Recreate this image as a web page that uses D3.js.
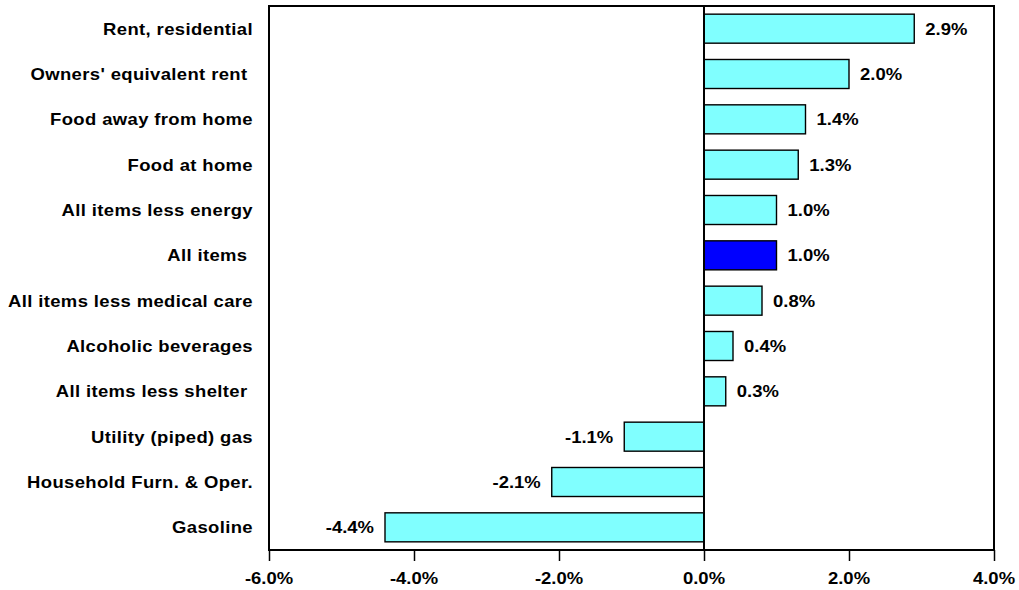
<!DOCTYPE html>
<html>
<head>
<meta charset="utf-8">
<script src="https://cdn.jsdelivr.net/npm/d3@7"></script>
<style>
  body { margin: 0; background: #fff; }
  text { font-family: "Liberation Sans", Arial, sans-serif; font-weight: bold; fill: #000; white-space: pre; }
</style>
</head>
<body>
<div id="chartArea"></div>
<script>
// data, top to bottom
let categories = [
   "Rent, residential",
   "Owners' equivalent rent ",
   "Food away from home",
   "Food at home",
   "All items less energy",
   "All items ",
   "All items less medical care",
   "Alcoholic beverages",
   "All items less shelter ",
   "Utility (piped) gas",
   "Household Furn. & Oper.",
   "Gasoline"
];
let values = [2.9, 2.0, 1.4, 1.3, 1.0, 1.0, 0.8, 0.4, 0.3, -1.1, -2.1, -4.4];
let highlighted = ["All items "];
let tick_values = [-6, -4, -2, 0, 2, 4];

let width = 1019, height = 590;
let plot_left = 269, plot_right = 994, plot_top = 6, plot_bottom = 550;
let fontSize = 16.5, stretch = 1.12;

let svg = d3.select('#chartArea').append('svg')
   .attr('width', width)
   .attr('height', height);

let x = d3.scaleLinear().domain([-6, 4]).range([plot_left, plot_right]);
let y = d3.scaleBand().domain(categories).range([plot_top, plot_bottom])
   .paddingInner(0.36).paddingOuter(0.18);

let fmt = function(v) { return v.toFixed(1) + '%'; };

// horizontally stretched text, like the original
let addText = function(g, tx, ty, str, anchor, spacing) {
   g.append('text')
      .attr('transform', `translate(${tx},${ty}) scale(${stretch},1)`)
      .attr('text-anchor', anchor)
      .attr('font-size', fontSize)
      .attr('letter-spacing', spacing || 0)
      .text(str);
};

// bars
svg.selectAll('rect.bar').data(categories)
   .enter().append('rect')
   .attr('class', 'bar')
   .attr('x', function(d, i) { return x(Math.min(0, values[i])); })
   .attr('y', function(d) { return y(d); })
   .attr('width', function(d, i) { return Math.abs(x(values[i]) - x(0)); })
   .attr('height', y.bandwidth())
   .attr('fill', function(d) { return highlighted.includes(d) ? '#0000ff' : '#80ffff'; })
   .attr('stroke', '#000')
   .attr('stroke-width', 1.4);

// frame
svg.append('rect')
   .attr('x', plot_left).attr('y', plot_top)
   .attr('width', plot_right - plot_left).attr('height', plot_bottom - plot_top)
   .attr('fill', 'none')
   .attr('stroke', '#000')
   .attr('stroke-width', 2);

// zero line
svg.append('line')
   .attr('x1', x(0)).attr('x2', x(0))
   .attr('y1', plot_top).attr('y2', plot_bottom)
   .attr('stroke', '#000')
   .attr('stroke-width', 2);

// x axis
let xAxis = svg.append('g')
   .attr('transform', `translate(0,${plot_bottom})`)
   .call(d3.axisBottom(x).tickValues(tick_values).tickSize(11).tickFormat(''));
xAxis.select('.domain').remove();
xAxis.selectAll('.tick line').attr('stroke', '#000').attr('stroke-width', 1.5);

let labels = svg.append('g');
tick_values.forEach(function(t) {
   addText(labels, x(t), 584, fmt(t), 'middle');
});

// category labels
categories.forEach(function(c) {
   addText(labels, 253, y(c) + y.bandwidth() / 2 + 6, c, 'end', 0.33);
});

// value labels
categories.forEach(function(c, i) {
   let v = values[i];
   let cy = y(c) + y.bandwidth() / 2 + 6;
   if (v >= 0) addText(labels, x(v) + 11, cy, fmt(v), 'start');
   else addText(labels, x(v) - 11, cy, fmt(v), 'end');
});
</script>
</body>
</html>
